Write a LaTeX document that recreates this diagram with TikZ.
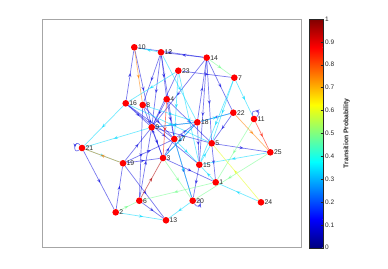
\documentclass[tikz,border=0pt]{standalone}
\usepackage{fontspec}
\setmainfont{Liberation Sans}
\usetikzlibrary{arrows.meta,decorations.markings,backgrounds}
\definecolor{pBlue}{rgb}{0.05,0.05,0.88}
\definecolor{pCyan}{rgb}{0,0.85,1}
\definecolor{pGreen}{rgb}{0.45,1,0.55}
\definecolor{pYellow}{rgb}{0.9,1,0.1}
\definecolor{pOrange}{rgb}{1,0.5,0}
\definecolor{pRed}{rgb}{1,0.1,0}
\definecolor{pDark}{rgb}{0.7,0,0}
\definecolor{AxisGray}{HTML}{A6A6A6}
\definecolor{TickInk}{HTML}{262626}
\tikzset{
  dot/.style={circle,fill=red,draw=none,minimum size=6.6pt,inner sep=0pt,
    label={[font=\fontsize{6.8}{7}\selectfont,text=TickInk,inner sep=0.5pt,label distance=-0.5pt]right:#1}},
  link/.style={draw=#1,opacity=0.55,line width=0.7pt,postaction={decorate},
    decoration={markings,mark=at position 0.55 with {\arrow[#1]{Stealth[length=4.2pt,width=3.4pt]}}}},
  ticklbl/.style={anchor=west,font=\fontsize{6.5}{7}\selectfont,text=TickInk,inner sep=0pt}
}

\begin{document}
\begin{tikzpicture}[x=1pt,y=-1pt]
  \useasboundingbox (0,0) rectangle (388,268);
  % axes box
  \draw[AxisGray,line width=0.6pt] (42.3,19) rectangle (301,247.7);

  % states
  \node[dot=1] (n1) at (215.7,182.3) {};
  \node[dot=2] (n2) at (115.7,212.3) {};
  \node[dot=3] (n3) at (163,158) {};
  \node[dot=4] (n4) at (166.7,99.3) {};
  \node[dot=5] (n5) at (211.7,143.3) {};
  \node[dot=6] (n6) at (139.3,200.7) {};
  \node[dot=7] (n7) at (234.3,77.7) {};
  \node[dot=8] (n8) at (142.7,105) {};
  \node[dot=9] (n9) at (151.7,127.3) {};
  \node[dot=10] (n10) at (134.3,47.3) {};
  \node[dot=11] (n11) at (254,119) {};
  \node[dot=12] (n12) at (161,52.3) {};
  \node[dot=13] (n13) at (166,220.3) {};
  \node[dot=14] (n14) at (206.7,57.7) {};
  \node[dot=15] (n15) at (199.3,164.7) {};
  \node[dot=16] (n16) at (125.7,103.3) {};
  \node[dot=17] (n17) at (174.3,139) {};
  \node[dot=18] (n18) at (197.3,122.3) {};
  \node[dot=19] (n19) at (123,163.3) {};
  \node[dot=20] (n20) at (192.7,200.7) {};
  \node[dot=21] (n21) at (82,148) {};
  \node[dot=22] (n22) at (233.3,112.7) {};
  \node[dot=23] (n23) at (178.3,70.7) {};
  \node[dot=24] (n24) at (261,202.3) {};
  \node[dot=25] (n25) at (270.3,152.3) {};

  % transitions, drawn under the states
  \begin{scope}[on background layer]
    \foreach \a/\b in {14/10,14/12,16/10,10/9,12/8,12/9,12/4,12/17,23/7,18/14,14/15,14/22,
      14/9,14/5,22/18,22/5,5/25,21/2,2/19,19/9,19/3,19/13,19/17,6/9,6/13,3/1,17/20,4/17,
      4/5,4/9,16/17,16/9,8/17,9/3,18/15,18/3,3/8,9/5,15/20,5/1,17/18,18/9,23/9,3/17,8/6,16/15}
      \draw[link=pBlue] (n\a) -- (n\b);
    \foreach \a/\b in {12/10,12/18,23/16,23/17,23/15,7/15,7/5,7/11,18/22,25/15,16/21,9/21,
      21/19,20/13,2/13,24/1,8/18,9/18,16/5,17/15,1/15,15/5,3/18,20/17}
      \draw[link=pCyan] (n\a) -- (n\b);
    \foreach \a/\b in {14/7,25/20,2/6,1/6,3/20,11/1}
      \draw[link=pGreen] (n\a) -- (n\b);
    \draw[link=pYellow] (n24) -- (n5);
    \foreach \a/\b in {10/8,19/21,22/25}
      \draw[link=pOrange] (n\a) -- (n\b);
    \draw[link=pRed] (n4) -- (n3);
    \draw[link=pRed] (n11) -- (n25);
    \draw[link=pDark] (n6) -- (n3);
    % self transitions
    \draw[link=pBlue] (n21) to[out=125,in=215,min distance=9pt] (n21);
    \draw[link=pBlue] (n11) to[out=40,in=110,min distance=9pt] (n11);
    \draw[link=pBlue] (n20) to[out=-60,in=10,min distance=9pt] (n20);
  \end{scope}

  % colour bar
  \shade[bottom color={rgb,1:red,0;green,0;blue,0.5},top color=blue] (309,247.7) rectangle (322.7,219.1);
  \shade[bottom color=blue,top color=cyan] (309,219.1) rectangle (322.7,161.9);
  \shade[bottom color=cyan,top color=yellow] (309,161.9) rectangle (322.7,104.8);
  \shade[bottom color=yellow,top color=red] (309,104.8) rectangle (322.7,47.6);
  \shade[bottom color=red,top color={rgb,1:red,0.5;green,0;blue,0}] (309,47.6) rectangle (322.7,19);
  \draw[TickInk,line width=0.4pt] (309,19) rectangle (322.7,247.7);
  \foreach \v/\t in {0/0,1/0.1,2/0.2,3/0.3,4/0.4,5/0.5,6/0.6,7/0.7,8/0.8,9/0.9,10/1} {
    \draw[TickInk,line width=0.3pt] (320.7,247.7-22.87*\v) -- (322.7,247.7-22.87*\v);
    \node[ticklbl] (tick\v) at (325,247.7-22.87*\v) {\t};
  }
  \node[rotate=90,font=\fontsize{6.8}{8}\bfseries\selectfont,text=TickInk] (barlabel) at (346.5,133.3) {Transition Probability};
\end{tikzpicture}
\end{document}
